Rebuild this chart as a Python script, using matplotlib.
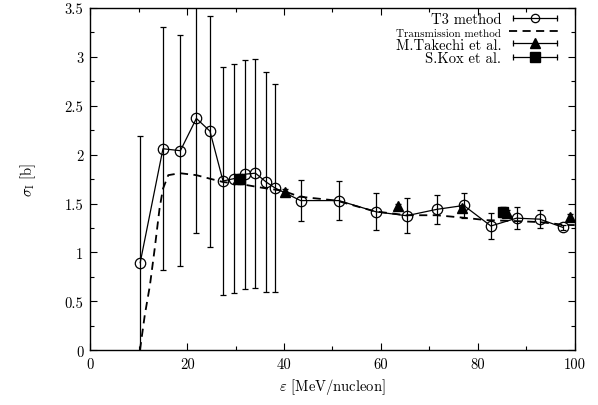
import matplotlib
matplotlib.use("Agg")
import matplotlib.pyplot as plt
from matplotlib.lines import Line2D
from matplotlib.legend_handler import HandlerLine2D, HandlerTuple
from matplotlib.ticker import MultipleLocator, FormatStrFormatter

plt.rcParams['font.family'] = ['cmr10', 'DejaVu Serif']
plt.rcParams['mathtext.fontset'] = 'cm'
plt.rcParams['axes.formatter.use_mathtext'] = True
plt.rcParams['axes.unicode_minus'] = False

# T3 method
t3_x = [10.3, 15.0, 18.6, 21.9, 24.7, 27.4, 29.7, 32.0, 34.1, 36.3, 38.1,
        43.4, 51.3, 59.0, 65.3, 71.5, 77.1, 82.7, 88.0, 92.8, 97.6]
t3_y = [0.895, 2.06, 2.04, 2.37, 2.24, 1.73, 1.755, 1.80, 1.81, 1.72, 1.66,
        1.53, 1.53, 1.415, 1.375, 1.44, 1.48, 1.27, 1.35, 1.34, 1.255]
t3_err = [1.30, 1.24, 1.18, 1.17, 1.18, 1.17, 1.175, 1.17, 1.17, 1.12, 1.06,
          0.21, 0.20, 0.19, 0.18, 0.15, 0.13, 0.135, 0.11, 0.09, 0.03]

# Transmission method
tr_x = [10.25, 11.25, 12.3, 13.3, 14.3, 15.0, 16.1, 18.5, 21.9, 24.6, 27.4,
        31.5, 35.6, 39.8, 43.2, 50.8, 58.7, 65.3, 71.5, 77.0, 81.8, 88.0,
        92.7, 98.3, 100.0]
tr_y = [0.0, 0.36, 0.66, 1.04, 1.45, 1.65, 1.79, 1.81, 1.79, 1.755, 1.72,
        1.695, 1.66, 1.63, 1.57, 1.53, 1.42, 1.38, 1.38, 1.355, 1.33, 1.32,
        1.31, 1.28, 1.28]

# M.Takechi et al.
tk_x = [40.2, 63.6, 76.8, 86.0, 99.0]
tk_y = [1.62, 1.47, 1.45, 1.40, 1.36]
tk_err = [0.03, 0.03, 0.03, 0.03, 0.03]

# S.Kox et al.
kx_x = [30.9, 85.2]
kx_y = [1.75, 1.415]
kx_err = [0.05, 0.05]

fig = plt.figure(figsize=(5.98, 4.06), dpi=100)
ax = fig.add_axes([0.151, 0.135, 0.810, 0.843])

ax.errorbar(t3_x, t3_y, yerr=t3_err, fmt='-', color='k', lw=0.9,
            elinewidth=0.9, capsize=2, marker='o', mfc='none', mec='k',
            ms=7.5, mew=0.9, zorder=3)
ax.plot(tr_x, tr_y, color='k', lw=1.3, ls=(0, (4.5, 3.0)), zorder=4)
ax.errorbar(tk_x, tk_y, yerr=tk_err, fmt='^', color='k', ms=7.5,
            elinewidth=0.9, capsize=2, zorder=5)
ax.errorbar(kx_x, kx_y, yerr=kx_err, fmt='s', color='k', ms=7,
            elinewidth=0.9, capsize=2, zorder=5)

ax.set_xlim(0, 100)
ax.set_ylim(0, 3.5)
ax.xaxis.set_major_locator(MultipleLocator(20))
ax.xaxis.set_minor_locator(MultipleLocator(10))
ax.yaxis.set_major_locator(MultipleLocator(0.5))
ax.yaxis.set_minor_locator(MultipleLocator(0.25))
ax.xaxis.set_major_formatter(FormatStrFormatter('%g'))
ax.yaxis.set_major_formatter(FormatStrFormatter('%g'))
ax.tick_params(which='both', direction='in', top=True, right=True,
               labelsize=10.5, width=0.8)
ax.tick_params(which='major', length=5, pad=5)
ax.tick_params(which='minor', length=3)
for s in ax.spines.values():
    s.set_linewidth(1.0)

ax.set_xlabel(r'$\varepsilon$ [MeV/nucleon]', fontsize=10.5, labelpad=4)
ax.set_ylabel(r'$\sigma_{\rm I}$ [b]', fontsize=10.5, labelpad=19)

# gnuplot-style legend
def caps():
    return Line2D([], [], color='k', lw=0.9, marker='|', ms=4, mew=0.9)

c1, c2, c3 = caps(), caps(), caps()
m1 = Line2D([], [], ls='none', marker='o', mfc='none', mec='k', ms=6, mew=0.9)
m2 = Line2D([], [], ls='none', marker='^', color='k', ms=7.5)
m3 = Line2D([], [], ls='none', marker='s', color='k', ms=7)
dl = Line2D([], [], color='k', lw=1.3, ls=(0, (4.5, 3.0)))
hm = {c: HandlerLine2D(numpoints=2) for c in (c1, c2, c3)}
hm[tuple] = HandlerTuple(ndivide=1)
leg = ax.legend([(c1, m1), dl, (c2, m2), (c3, m3)],
                ['T3 method', 'Transmission method', 'M.Takechi et al.', 'S.Kox et al.'],
                handler_map=hm, loc='upper right', bbox_to_anchor=(0.99, 1.014),
                frameon=False, markerfirst=False, fontsize=10.5,
                handlelength=3.6, handletextpad=0.5, labelspacing=0.0,
                borderaxespad=0.2)
leg.get_texts()[1].set_fontsize(8)

fig.savefig('out.png', dpi=100)
